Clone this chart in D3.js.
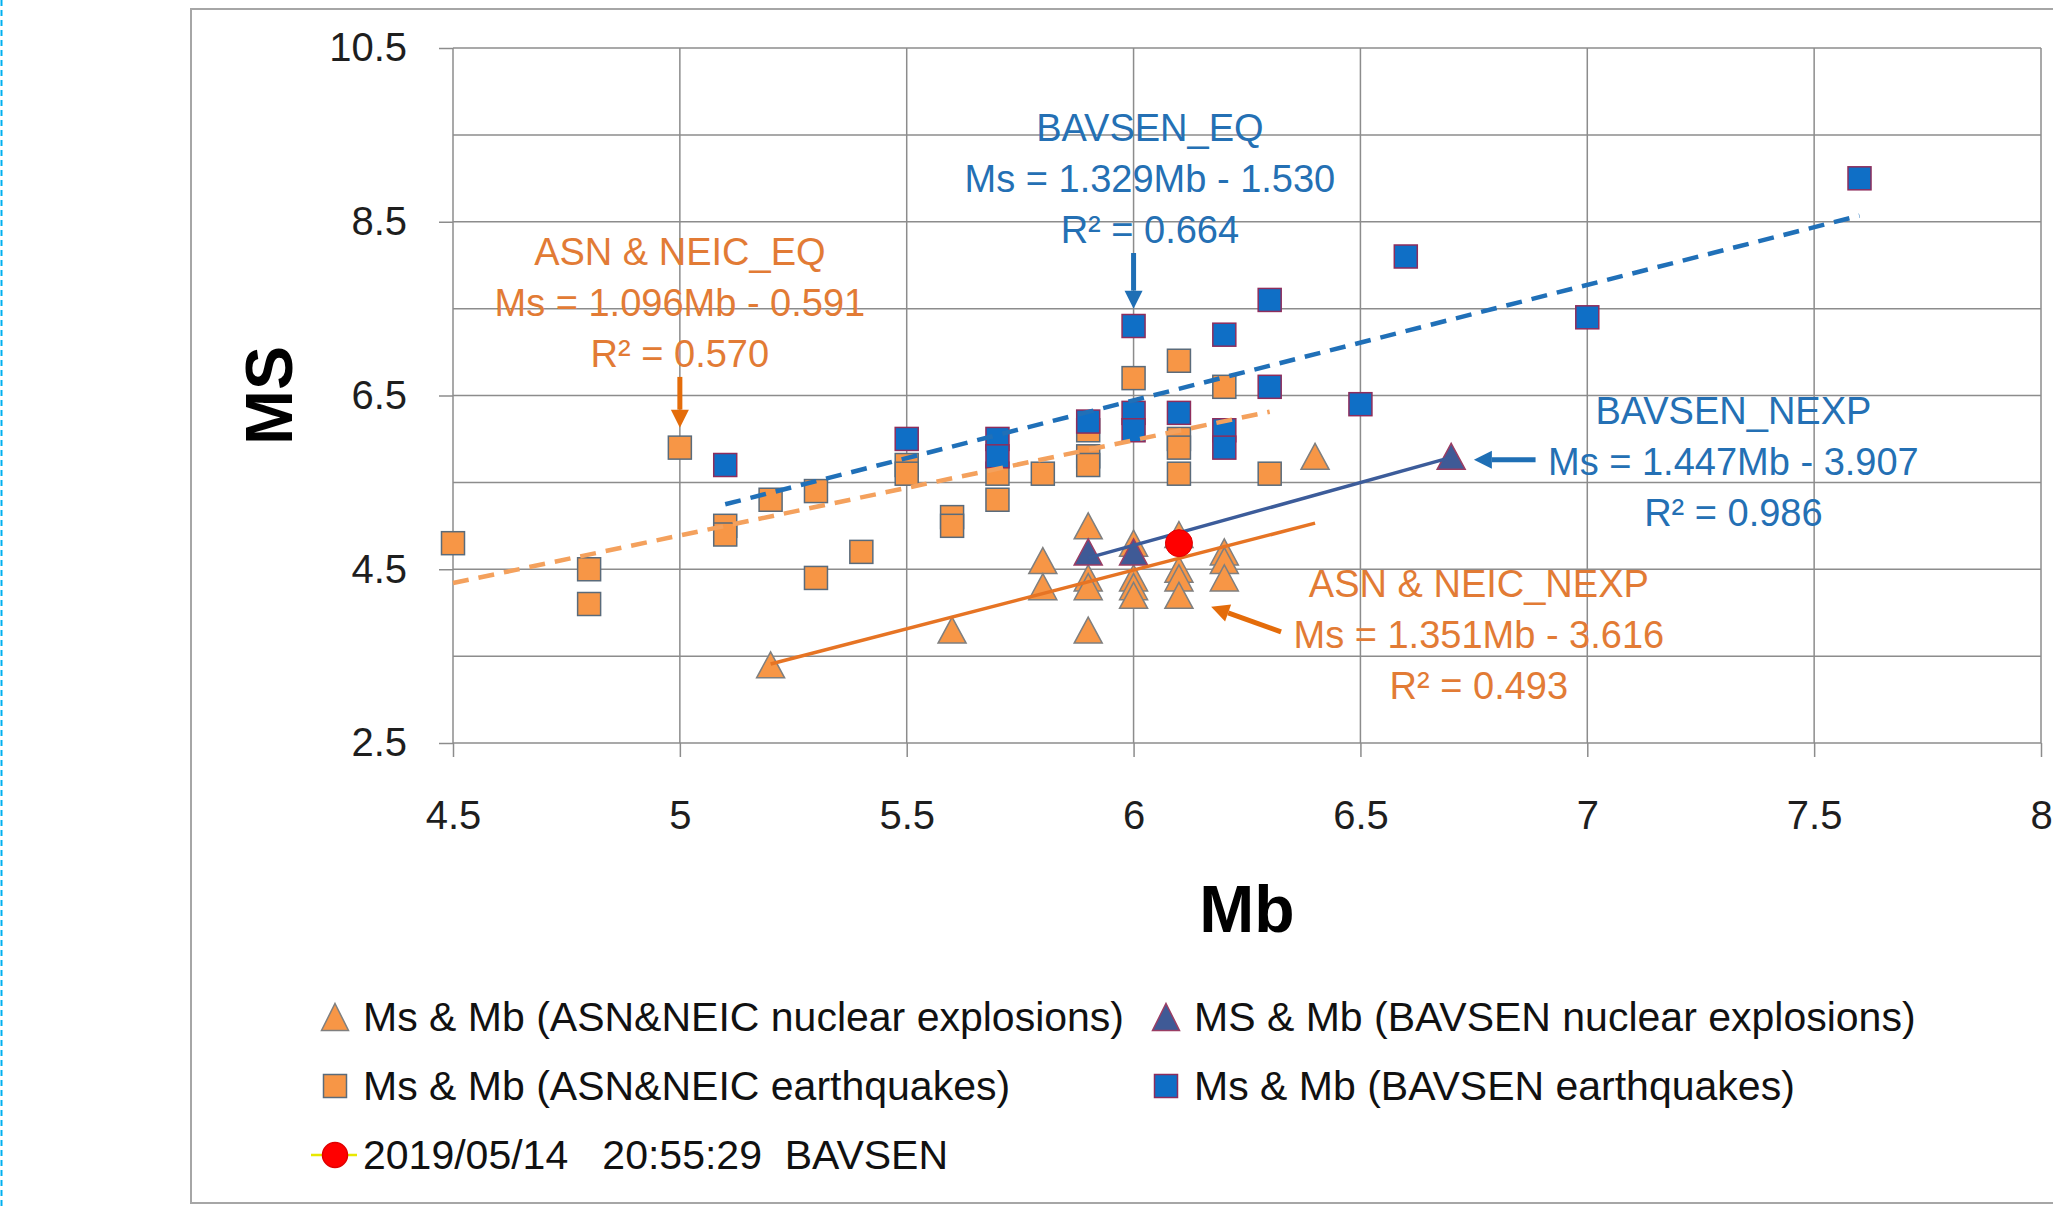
<!DOCTYPE html>
<meta charset="utf-8">
<script src="https://cdn.jsdelivr.net/npm/d3@7/dist/d3.min.js"></script>
<style>
body {
    margin: 0;
    background: #fff;
}
svg {
    display: block;
    font-family: "Liberation Sans", Arial, sans-serif;
}
.grid line {
    stroke: #8c8c8c;
    stroke-width: 1.5;
}
.axis line {
    stroke: #8c8c8c;
    stroke-width: 1.5;
}
.axis path {
    display: none;
}
.axis text {
    font-size: 40px;
    fill: #1e1e1e;
}
.title {
    font-size: 66px;
    font-weight: bold;
    fill: #000;
}
.legend text {
    font-size: 41px;
    fill: #111;
    white-space: pre;
}
.note {
    font-size: 38px;
    text-anchor: middle;
}
</style>
<svg width="2053" height="1209"></svg>
<script>

// ---- data ----
// ASN & NEIC nuclear explosions
var asnNexpMb = [5.2, 5.6, 5.8, 5.8, 5.9, 5.9, 5.9, 5.9, 6.0, 6.0, 6.0, 6.0, 6.1, 6.1, 6.1, 6.1, 6.2, 6.2, 6.2, 6.4];
var asnNexpMs = [3.4, 3.8, 4.6, 4.3, 5.0, 4.4, 4.3, 3.8, 4.8, 4.4, 4.3, 4.2, 4.9, 4.5, 4.4, 4.2, 4.7, 4.6, 4.4, 5.8];
// BAVSEN nuclear explosions
var bavNexpMb = [5.9, 6.0, 6.7];
var bavNexpMs = [4.7, 4.7, 5.8];
// ASN & NEIC earthquakes
var asnEqMb = [4.5, 4.8, 4.8, 5.0, 5.1, 5.1, 5.2, 5.3, 5.3, 5.4, 5.5, 5.5, 5.6, 5.6, 5.7, 5.7, 5.8, 5.9, 5.9, 5.9, 6.0, 6.1, 6.1, 6.1, 6.1, 6.2, 6.3];
var asnEqMs = [4.8, 4.5, 4.1, 5.9, 5.0, 4.9, 5.3, 5.4, 4.4, 4.7, 5.7, 5.6, 5.1, 5.0, 5.6, 5.3, 5.6, 6.1, 5.8, 5.7, 6.7, 6.9, 6.0, 5.9, 5.6, 6.6, 5.6];
// BAVSEN earthquakes
var bavEqMb = [5.1, 5.5, 5.7, 5.7, 5.9, 6.0, 6.0, 6.0, 6.1, 6.2, 6.2, 6.2, 6.3, 6.3, 6.5, 6.6, 7.0, 7.6];
var bavEqMs = [5.7, 6.0, 6.0, 5.8, 6.2, 7.3, 6.3, 6.1, 6.3, 7.2, 6.1, 5.9, 7.6, 6.6, 6.4, 8.1, 7.4, 9.0];
// 2019/05/14 event
var eventMb = [6.1];
var eventMs = [4.8];

// linear fits: Ms = a*Mb + b
var fitNames = ["ASN & NEIC_EQ", "BAVSEN_EQ", "ASN & NEIC_NEXP", "BAVSEN_NEXP"];
var fitSlope = [1.096, 1.329, 1.351, 1.447];
var fitIntercept = [-0.591, -1.530, -3.616, -3.907];
var fitR2 = [0.570, 0.664, 0.493, 0.986];

var xTicks = [4.5, 5, 5.5, 6, 6.5, 7, 7.5, 8];
var yTicks = [2.5, 4.5, 6.5, 8.5, 10.5];

var legendNames = [
    "Ms & Mb (ASN&NEIC nuclear explosions)",
    "MS & Mb (BAVSEN nuclear explosions)",
    "Ms & Mb (ASN&NEIC earthquakes)",
    "Ms & Mb (BAVSEN earthquakes)",
    "2019/05/14   20:55:29  BAVSEN"
];

// ---- colours ----
var orangeFill = "#f79646",
    blueFill = "#0f6fc6",
    navyFill = "#3f5a96",
    orangeText = "#e27b35",
    blueText = "#2470b4";

var svg = d3.select("svg"),
    width = +svg.attr("width"),
    height = +svg.attr("height");

var x = d3.scaleLinear().domain([4.5, 8]).range([453, 2041]);
var y = d3.scaleLinear().domain([2.5, 10.5]).range([743, 48]);

function pairs(xs, ys) {
    return xs.map(function(v, i) { return {mb: v, ms: ys[i]}; });
}

function tri(w, h) {
    return "M0," + (-h / 2) + "L" + (w / 2) + "," + (h / 2) + "L" + (-w / 2) + "," + (h / 2) + "Z";
}

// outer frame + dashed page edge
svg.append("rect")
    .attr("x", 191).attr("y", 9)
    .attr("width", width).attr("height", 1194)
    .attr("fill", "none").attr("stroke", "#a6a6a6").attr("stroke-width", 2);
svg.append("line")
    .attr("x1", 1.5).attr("x2", 1.5).attr("y1", 0).attr("y2", height)
    .attr("stroke", "#00b0f0").attr("stroke-width", 2).attr("stroke-dasharray", "6,4");

// gridlines
var grid = svg.append("g").attr("class", "grid");
grid.selectAll("line.h")
    .data(d3.range(2.5, 10.6, 1))
    .enter().append("line")
    .attr("x1", x(4.5)).attr("x2", x(8))
    .attr("y1", function(d) { return y(d); })
    .attr("y2", function(d) { return y(d); });
grid.selectAll("line.v")
    .data(xTicks)
    .enter().append("line")
    .attr("y1", y(2.5)).attr("y2", y(10.5))
    .attr("x1", function(d) { return x(d); })
    .attr("x2", function(d) { return x(d); });

// axes
svg.append("g")
    .attr("class", "axis")
    .attr("transform", "translate(" + x(4.5) + ",0)")
    .call(d3.axisLeft(y).tickValues(yTicks).tickSize(14).tickPadding(32).tickFormat(d3.format("")));
svg.append("g")
    .attr("class", "axis")
    .attr("transform", "translate(0," + y(2.5) + ")")
    .call(d3.axisBottom(x).tickValues(xTicks).tickSize(14).tickPadding(44).tickFormat(d3.format("")));

svg.append("text")
    .attr("class", "title")
    .attr("text-anchor", "middle")
    .attr("transform", "translate(292," + ((y(2.5) + y(10.5)) / 2) + ") rotate(-90)")
    .text("MS");
svg.append("text")
    .attr("class", "title")
    .attr("text-anchor", "middle")
    .attr("x", (x(4.5) + x(8)) / 2)
    .attr("y", 932)
    .text("Mb");

// markers
var marks = svg.append("g");

marks.selectAll("path.asnNexp")
    .data(pairs(asnNexpMb, asnNexpMs))
    .enter().append("path")
    .attr("d", tri(28, 26))
    .attr("transform", function(d) { return "translate(" + x(d.mb) + "," + y(d.ms) + ")"; })
    .attr("fill", orangeFill).attr("stroke", "#7f7f7f").attr("stroke-width", 1.5);

marks.selectAll("path.bavNexp")
    .data(pairs(bavNexpMb, bavNexpMs))
    .enter().append("path")
    .attr("d", tri(28, 26))
    .attr("transform", function(d) { return "translate(" + x(d.mb) + "," + y(d.ms) + ")"; })
    .attr("fill", navyFill).attr("stroke", "#9a3d63").attr("stroke-width", 1.5);

marks.selectAll("rect.asnEq")
    .data(pairs(asnEqMb, asnEqMs))
    .enter().append("rect")
    .attr("x", function(d) { return x(d.mb) - 11.5; })
    .attr("y", function(d) { return y(d.ms) - 11.5; })
    .attr("width", 23).attr("height", 23)
    .attr("fill", orangeFill).attr("stroke", "#5a6b7b").attr("stroke-width", 1.5);

marks.selectAll("rect.bavEq")
    .data(pairs(bavEqMb, bavEqMs))
    .enter().append("rect")
    .attr("x", function(d) { return x(d.mb) - 11.5; })
    .attr("y", function(d) { return y(d.ms) - 11.5; })
    .attr("width", 23).attr("height", 23)
    .attr("fill", blueFill).attr("stroke", "#8e2d5c").attr("stroke-width", 1.5);

// trendlines, each over the Mb range of its series
var fitRange = [
    d3.extent(asnEqMb),
    d3.extent(bavEqMb),
    d3.extent(asnNexpMb),
    d3.extent(bavNexpMb)
];
var fitStyle = [
    {color: "#f4a15d", width: 4.5, dash: "16,10"},
    {color: "#2070b8", width: 4.5, dash: "16,10"},
    {color: "#e67424", width: 3.5, dash: null},
    {color: "#3c5c9a", width: 3.5, dash: null}
];
fitNames.forEach(function(name, i) {
    var r = fitRange[i];
    svg.append("line")
        .attr("x1", x(r[0])).attr("y1", y(fitSlope[i] * r[0] + fitIntercept[i]))
        .attr("x2", x(r[1])).attr("y2", y(fitSlope[i] * r[1] + fitIntercept[i]))
        .attr("stroke", fitStyle[i].color)
        .attr("stroke-width", fitStyle[i].width)
        .attr("stroke-dasharray", fitStyle[i].dash);
});

// the 2019 event on top
svg.selectAll("circle.event")
    .data(pairs(eventMb, eventMs))
    .enter().append("circle")
    .attr("cx", function(d) { return x(d.mb); })
    .attr("cy", function(d) { return y(d.ms); })
    .attr("r", 13.5)
    .attr("fill", "#ff0000").attr("stroke", "#e00000").attr("stroke-width", 1);

// fit labels (anchor = centre of first line baseline, in data units)
var noteAt = [[5.0, 8.0], [6.036, 9.43], [6.761, 4.18], [7.322, 6.17]];
var noteColor = [orangeText, blueText, orangeText, blueText];
var f3 = d3.format(".3f");
fitNames.forEach(function(name, i) {
    var lines = [
        name,
        "Ms = " + f3(fitSlope[i]) + "Mb - " + f3(-fitIntercept[i]),
        "R\u00b2 = " + f3(fitR2[i])
    ];
    svg.append("g").selectAll("text")
        .data(lines)
        .enter().append("text")
        .attr("class", "note")
        .attr("fill", noteColor[i])
        .attr("x", x(noteAt[i][0]))
        .attr("y", function(d, k) { return y(noteAt[i][1]) + k * 51; })
        .text(function(d) { return d; });
});

// arrows from the labels to the data
function arrow(p0, p1, color) {
    var x0 = x(p0[0]), y0 = y(p0[1]), x1 = x(p1[0]), y1 = y(p1[1]);
    var ang = Math.atan2(y1 - y0, x1 - x0),
        hl = 18, hw = 9;
    var bx = x1 - hl * Math.cos(ang), by = y1 - hl * Math.sin(ang);
    svg.append("line")
        .attr("x1", x0).attr("y1", y0).attr("x2", bx).attr("y2", by)
        .attr("stroke", color).attr("stroke-width", 5);
    svg.append("path")
        .attr("d", "M" + x1 + "," + y1 +
            "L" + (bx + hw * Math.sin(ang)) + "," + (by - hw * Math.cos(ang)) +
            "L" + (bx - hw * Math.sin(ang)) + "," + (by + hw * Math.cos(ang)) + "Z")
        .attr("fill", color);
}
arrow([5.0, 6.714], [5.0, 6.13], "#e46c0a");
arrow([6.0, 8.14], [6.0, 7.50], "#1f6fb5");
arrow([6.886, 5.759], [6.75, 5.759], "#1f6fb5");
arrow([6.325, 3.78], [6.171, 4.067], "#e46c0a");

// legend
var legendItems = [
    {col: 0, row: 0, shape: "tri", fill: orangeFill, stroke: "#7f7f7f"},
    {col: 1, row: 0, shape: "tri", fill: navyFill, stroke: "#9a3d63"},
    {col: 0, row: 1, shape: "sq", fill: orangeFill, stroke: "#5a6b7b"},
    {col: 1, row: 1, shape: "sq", fill: blueFill, stroke: "#8e2d5c"},
    {col: 0, row: 2, shape: "dot", fill: "#ff0000", stroke: "#e00000"}
];
var colX = [335, 1166], rowY = [1017, 1086, 1155];

var legend = svg.append("g").attr("class", "legend");
legendItems.forEach(function(it, i) {
    var cx = colX[it.col], cy = rowY[it.row];
    var g = legend.append("g").attr("transform", "translate(" + cx + "," + cy + ")");
    if (it.shape == "tri") {
        g.append("path").attr("d", tri(27, 27));
    } else if (it.shape == "sq") {
        g.append("rect").attr("x", -11.5).attr("y", -11.5).attr("width", 23).attr("height", 23);
    } else {
        g.append("line").attr("x1", -24).attr("x2", 22).attr("stroke", "#e8e800").attr("stroke-width", 2.5);
        g.append("circle").attr("r", 12.5);
    }
    g.selectAll("path,rect,circle")
        .attr("fill", it.fill).attr("stroke", it.stroke).attr("stroke-width", 1.5);
    g.append("text")
        .attr("x", 28)
        .attr("y", 14)
        .text(legendNames[i]);
});

</script>
